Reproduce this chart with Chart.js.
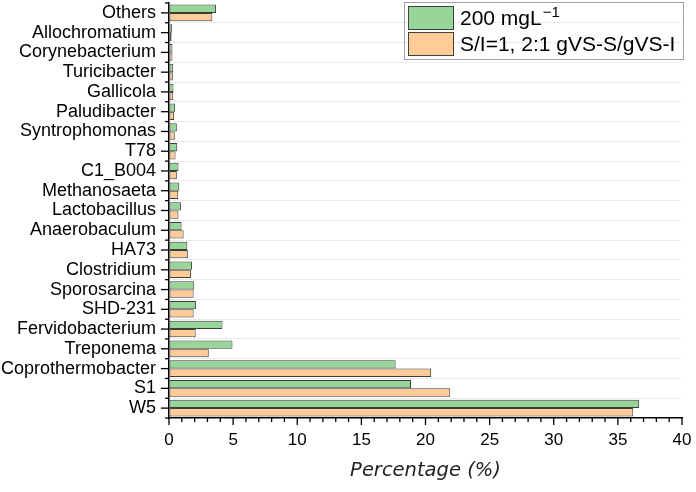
<!DOCTYPE html>
<html>
<head>
<meta charset="utf-8">
<script src="https://cdn.jsdelivr.net/npm/chart.js@4/dist/chart.umd.min.js"></script>
<style>
html,body{margin:0;padding:0;background:#fff;}
#wrap{width:696px;height:492px;}
</style>
</head>
<body>
<div id="wrap"><canvas id="c" width="696" height="492"></canvas></div>
<script>
const categories = ['Others','Allochromatium','Corynebacterium','Turicibacter','Gallicola','Paludibacter','Syntrophomonas','T78','C1_B004','Methanosaeta','Lactobacillus','Anaerobaculum','HA73','Clostridium','Sporosarcina','SHD-231','Fervidobacterium','Treponema','Coprothermobacter','S1','W5'];
const series200 = [3.67,0.25,0.27,0.33,0.35,0.48,0.61,0.64,0.74,0.80,0.93,0.98,1.43,1.79,1.97,2.10,4.17,4.95,17.67,18.87,36.66];
const seriesSI = [3.38,0.20,0.27,0.30,0.33,0.40,0.45,0.51,0.61,0.72,0.74,1.14,1.47,1.71,1.92,1.92,2.08,3.10,20.44,21.93,36.20];
const seriesNames = ['200 mgL\u207B\u00B9','S/I=1, 2:1 gVS-S/gVS-I'];
const xTickValues = [0,5,10,15,20,25,30,35,40];
const xTitle = 'Percentage (%)';

const FONT = "'Liberation Sans', Arial, sans-serif";

const tickPlugin = {
  id: 'tickMarks',
  afterDraw(chart) {
    const ctx = chart.ctx;
    const x = chart.scales.x, y = chart.scales.y;
    const ca = chart.chartArea;
    ctx.save();
    ctx.strokeStyle = '#000';
    ctx.lineWidth = 1.3;
    const n = categories.length;
    for (let i = 0; i < n; i++) {
      const py = y.getPixelForValue(i);
      ctx.beginPath(); ctx.moveTo(ca.left, py); ctx.lineTo(ca.left - 8, py); ctx.stroke();
    }
    for (let i = 0; i <= n; i++) {
      const py = y.getPixelForValue(i - 0.5);
      ctx.beginPath(); ctx.moveTo(ca.left, py); ctx.lineTo(ca.left - 4, py); ctx.stroke();
    }
    for (let v = x.min; v <= x.max; v += 1) {
      const px = x.getPixelForValue(v);
      const len = (v % 5 === 0) ? 7 : 4;
      ctx.beginPath(); ctx.moveTo(px, ca.bottom); ctx.lineTo(px, ca.bottom + len); ctx.stroke();
    }
    ctx.restore();
  }
};

const legendPlugin = {
  id: 'boxLegend',
  afterDraw(chart) {
    const ctx = chart.ctx;
    const bx = 404, by = 2, bw = 279, bh = 57;
    ctx.save();
    ctx.strokeStyle = '#a0a0a0';
    ctx.lineWidth = 1;
    ctx.strokeRect(bx + 0.5, by + 0.5, bw, bh);
    chart.data.datasets.forEach((ds, i) => {
      const sy = 6 + i * 26;
      ctx.fillStyle = ds.backgroundColor;
      ctx.fillRect(408, sy, 45, 23);
      ctx.strokeStyle = '#404040';
      ctx.lineWidth = 1;
      ctx.strokeRect(408.5, sy + 0.5, 45, 23);
      ctx.fillStyle = '#000';
      ctx.textBaseline = 'alphabetic';
      ctx.textAlign = 'left';
      const base = sy + 19;
      const m = ds.label.match(/^(.*?)\u207B\u00B9$/);
      if (m) {
        ctx.font = '21px ' + FONT;
        ctx.fillText(m[1], 460, base);
        const w = ctx.measureText(m[1]).width;
        ctx.font = '15px ' + FONT;
        ctx.fillText('\u22121', 460 + w + 1, base - 8);
      } else {
        ctx.font = '21px ' + FONT;
        ctx.fillText(ds.label, 460, base);
      }
    });
    ctx.restore();
  }
};

new Chart(document.getElementById('c'), {
  type: 'bar',
  data: {
    labels: categories,
    datasets: [
      { label: seriesNames[0], data: series200, backgroundColor: '#98D598', borderColor: '#3c3c3c', borderWidth: 1, borderSkipped: false },
      { label: seriesNames[1], data: seriesSI, backgroundColor: '#FFCB96', borderColor: '#3c3c3c', borderWidth: 1, borderSkipped: false }
    ]
  },
  options: {
    indexAxis: 'y',
    responsive: false,
    animation: false,
    devicePixelRatio: 1,
    layout: { padding: { top: 3, right: 14, left: 0, bottom: 0 } },
    datasets: { bar: { categoryPercentage: 0.84, barPercentage: 1.0 } },
    plugins: { legend: { display: false }, tooltip: { enabled: false } },
    scales: {
      x: {
        type: 'linear', min: 0, max: 40,
        afterBuildTicks(scale) { scale.ticks = xTickValues.map(v => ({ value: v })); },
        ticks: { font: { family: FONT, size: 17 }, color: '#000', padding: 12, maxRotation: 0 },
        grid: { display: true, drawOnChartArea: false, drawTicks: false },
        border: { display: true, color: '#000', width: 1.5 },
        title: { display: true, text: xTitle, color: '#222', font: { family: "'DejaVu Sans', Verdana, sans-serif", size: 19.5, style: 'italic' }, padding: { top: 0, bottom: 9 } },
        afterFit(scale) { scale.height = 74; scale.paddingLeft = 0; scale.paddingRight = 0; }
      },
      y: {
        type: 'category', offset: true,
        ticks: { font: { family: FONT, size: 18 }, color: '#000', padding: 13, autoSkip: false },
        grid: {
          offset: true, drawTicks: false,
          color: (c) => (c.index === 0 ? 'rgba(0,0,0,0)' : '#d6d6d6'),
          lineWidth: 1
        },
        border: { display: true, color: '#000', width: 1.5, dash: [2, 2] },
        afterFit(scale) { scale.width = 169; scale.paddingTop = 0; scale.paddingBottom = 0; }
      }
    }
  },
  plugins: [tickPlugin, legendPlugin]
});
</script>
</body>
</html>
